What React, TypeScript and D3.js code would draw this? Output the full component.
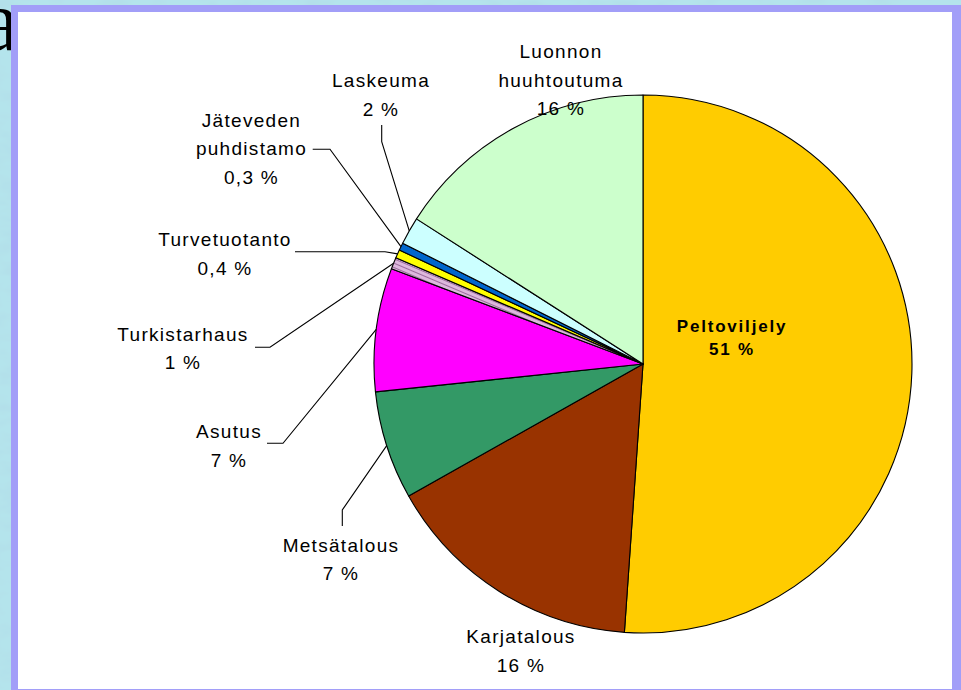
import React from "react";
import * as d3 from "d3";

// ---- data ----
const categories = [
  "Peltoviljely",
  "Karjatalous",
  "Metsätalous",
  "Asutus",
  "Turkistarhaus",
  "Turvetuotanto",
  "Jäteveden puhdistamo",
  "Laskeuma",
  "Luonnon huuhtoutuma",
];
const shares = [51, 15.7, 6.5, 7.4, 0.7, 0.5, 0.45, 1.65, 15.9];
const percentLabels = ["51 %", "16 %", "7 %", "7 %", "1 %", "0,4 %", "0,3 %", "2 %", "16 %"];
const labelLines = [
  ["Peltoviljely"],
  ["Karjatalous"],
  ["Metsätalous"],
  ["Asutus"],
  ["Turkistarhaus"],
  ["Turvetuotanto"],
  ["Jäteveden", "puhdistamo"],
  ["Laskeuma"],
  ["Luonnon", "huuhtoutuma"],
];

// ---- styles / layout ----
const colors = ["#FFCC00", "#993300", "#339966", "#FF00FF", "url(#hatch)", "#FFFF00", "#0066CC", "#CCFFFF", "#CCFFCC"];
const W = 961;
const H = 690;
const CX = 643;
const CY = 364;
const R = 269;
// label anchor (center x, first baseline y)
const labelPos: [number, number][] = [
  [732, 331.5],
  [521, 643.3],
  [341, 551.7],
  [229, 438.3],
  [183, 340.7],
  [225, 246],
  [251.5, 126.7],
  [381, 87.3],
  [561, 58.3],
];
// leader elbows (null = no leader)
const leaders: ([number, number][] | null)[] = [
  null,
  null,
  [[342.3, 526], [342.3, 510]],
  [[267, 443.3], [283, 443.3]],
  [[255, 347.3], [270, 347.3]],
  [[295, 251.7], [385, 251.7]],
  [[312.7, 149.3], [330, 149.3]],
  [[381.7, 125], [381.7, 141.7]],
  null,
];

export default function App() {
  const pie = d3.pie<number>().sort(null).value((d) => d);
  const arcs = pie(shares);
  const arcGen = d3.arc<d3.PieArcDatum<number>>().innerRadius(0).outerRadius(R);
  const lineGen = d3.line();

  return (
    <svg
      width={W}
      height={H}
      style={{ position: "absolute", left: 0, top: 0, display: "block" }}
      xmlns="http://www.w3.org/2000/svg"
    >
      <defs>
        <filter id="tex" x="0" y="0" width="100%" height="100%" filterUnits="userSpaceOnUse">
          <feTurbulence type="fractalNoise" baseFrequency="0.03 0.07" numOctaves="3" seed="4" result="n" />
          <feColorMatrix
            in="n"
            type="matrix"
            values="0 0 0 0 0.45  0 0 0 0 0.74  0 0 0 0 0.82  2.6 0 0 0 -1.05"
          />
        </filter>
        <pattern
          id="hatch"
          width="4"
          height="4"
          patternUnits="userSpaceOnUse"
          patternTransform="rotate(23)"
        >
          <rect width="4" height="4" fill="#DDB8DD" />
          <line x1="0" y1="0.5" x2="4" y2="0.5" stroke="#9B6B9B" strokeWidth="1" />
        </pattern>
      </defs>

      {/* slide background */}
      <rect x={0} y={0} width={W} height={H} fill="#B4E4EC" />
      <rect x={0} y={0} width={W} height={H} fill="#B4E4EC" filter="url(#tex)" />
      <text
        x={-19}
        y={50}
        fontFamily="Liberation Serif, serif"
        fontSize={86}
        fill="#000"
      >
        a
      </text>

      {/* chart frame */}
      <rect x={11} y={5} width={W} height={H} fill="#A29EF8" />
      <rect x={18} y={12} width={934} height={677} fill="#FFFFFF" />

      {/* pie */}
      <g transform={`translate(${CX},${CY})`}>
        {arcs.map((a, i) => (
          <path key={i} d={arcGen(a) || ""} fill={colors[i]} stroke="#000" strokeWidth={1.1} strokeLinejoin="round" />
        ))}
      </g>

      {/* leaders */}
      {arcs.map((a, i) => {
        const el = leaders[i];
        if (!el) return null;
        const mid = (a.startAngle + a.endAngle) / 2;
        const end: [number, number] = [CX + R * Math.sin(mid), CY - R * Math.cos(mid)];
        const pts: [number, number][] = [...el, end];
        return <path key={i} d={lineGen(pts) || ""} fill="none" stroke="#000" strokeWidth={1.1} />;
      })}

      {/* labels */}
      {categories.map((c, i) => {
        const [x, y] = labelPos[i];
        const bold = i === 0;
        const lh = bold ? 23.5 : 28.5;
        const lines = [...labelLines[i], percentLabels[i]];
        return (
          <text
            key={c}
            x={x}
            y={y}
            textAnchor="middle"
            fontFamily="Liberation Sans, Arial, sans-serif"
            fontSize={bold ? 17 : 19}
            fontWeight={bold ? "bold" : "normal"}
            letterSpacing={bold ? 1.8 : 1.3}
            fill="#000"
          >
            {lines.map((l, j) => (
              <tspan key={j} x={x} dy={j === 0 ? 0 : lh}>
                {l}
              </tspan>
            ))}
          </text>
        );
      })}
    </svg>
  );
}
